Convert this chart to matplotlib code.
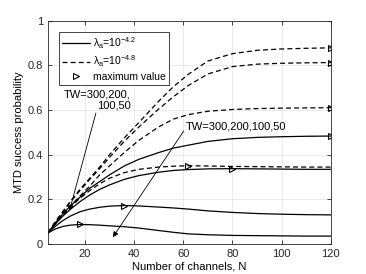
import numpy as np
import matplotlib
matplotlib.use('Agg')
import matplotlib.pyplot as plt
from matplotlib.lines import Line2D

plt.rcParams['font.family'] = ['Liberation Sans', 'DejaVu Sans']
plt.rcParams['mathtext.fontset'] = 'custom'
plt.rcParams['mathtext.rm'] = 'Liberation Sans'

# number of channels
N = np.array([5, 8, 11, 14, 18, 22, 26, 30, 36, 42, 50, 56, 62, 70, 80, 90, 100, 110, 120])

# lambda_a = 10^-4.2 (solid), TW = 300, 200, 100, 50
s_300 = [0.05, 0.095, 0.135, 0.17, 0.21, 0.25, 0.28, 0.31, 0.35, 0.38, 0.41, 0.43, 0.443, 0.46, 0.472, 0.478, 0.481, 0.483, 0.484]
s_200 = [0.05, 0.09, 0.125, 0.155, 0.19, 0.22, 0.245, 0.265, 0.29, 0.307, 0.322, 0.33, 0.334, 0.337, 0.338, 0.337, 0.336, 0.335, 0.335]
s_100 = [0.05, 0.08, 0.105, 0.125, 0.145, 0.157, 0.165, 0.17, 0.173, 0.171, 0.166, 0.162, 0.157, 0.149, 0.142, 0.137, 0.134, 0.132, 0.131]
s_50 = [0.05, 0.068, 0.079, 0.085, 0.088, 0.087, 0.085, 0.082, 0.078, 0.072, 0.061, 0.053, 0.046, 0.042, 0.039, 0.038, 0.037, 0.036, 0.036]

# lambda_a = 10^-4.8 (dashed), TW = 300, 200, 100, 50
d_300 = [0.05, 0.10, 0.145, 0.19, 0.245, 0.295, 0.345, 0.40, 0.475, 0.545, 0.64, 0.705, 0.76, 0.82, 0.853, 0.868, 0.874, 0.877, 0.879]
d_200 = [0.05, 0.10, 0.143, 0.187, 0.24, 0.29, 0.338, 0.388, 0.46, 0.525, 0.605, 0.66, 0.71, 0.762, 0.795, 0.806, 0.81, 0.812, 0.813]
d_100 = [0.05, 0.095, 0.135, 0.17, 0.215, 0.26, 0.31, 0.35, 0.41, 0.465, 0.525, 0.56, 0.58, 0.595, 0.603, 0.607, 0.609, 0.61, 0.611]
d_50 = [0.05, 0.09, 0.13, 0.165, 0.205, 0.24, 0.27, 0.295, 0.32, 0.335, 0.345, 0.349, 0.351, 0.35, 0.348, 0.347, 0.346, 0.345, 0.345]

solid = [s_300, s_200, s_100, s_50]
dashed = [d_300, d_200, d_100, d_50]

fig = plt.figure(figsize=(3.66, 2.74), dpi=100)
ax = fig.add_axes([0.131, 0.109, 0.773, 0.815])

dash = (0, (4, 2.5))
for y in solid:
    ax.plot(N, y, color='k', lw=0.9)
for y in dashed:
    ax.plot(N, y, color='k', lw=0.9, linestyle=dash)
# maximum of each curve (last one if tied)
for y in solid + dashed:
    y = np.array(y)
    i = len(y) - 1 - np.argmax(y[::-1])
    ax.plot(N[i], y[i], marker='>', ms=5, mfc='none', mec='k', mew=0.8, ls='none')

ax.set_xlim(5, 120)
ax.set_ylim(0, 1)
ax.set_xticks([20, 40, 60, 80, 100, 120])
ax.set_yticks([0, 0.2, 0.4, 0.6, 0.8, 1])
ax.set_yticklabels(['0', '0.2', '0.4', '0.6', '0.8', '1'])
ax.tick_params(direction='in', labelsize=8, length=3, width=0.6, top=True, right=True, colors='#262626')
ax.grid(True, color='#e6e6e6', lw=0.6)
ax.set_axisbelow(True)
for sp in ax.spines.values():
    sp.set_linewidth(0.6)
    sp.set_color('#262626')
ax.set_xlabel('Number of channels, N', fontsize=8, labelpad=2)
ax.set_ylabel('MTD success probability', fontsize=8, labelpad=3)

arw = dict(arrowstyle='-|>', lw=0.6, color='k', mutation_scale=8, shrinkA=0, shrinkB=0)
ax.annotate('', xy=(13.7, 0.148), xytext=(24.5, 0.587), arrowprops=arw)
ax.text(38.5, 0.645, 'TW=300,200,\n100,50', fontsize=8, ha='right', va='center',
        multialignment='right', linespacing=1.1)
ax.annotate('', xy=(31.4, 0.031), xytext=(60.2, 0.507), arrowprops=arw)
ax.text(61, 0.527, 'TW=300,200,100,50', fontsize=8, ha='left', va='center')

handles = [Line2D([], [], color='k', lw=0.9),
           Line2D([], [], color='k', lw=0.9, linestyle=dash),
           Line2D([], [], marker='>', ms=5, mfc='none', mec='k', mew=0.8, ls='none')]
labels = [r'λ$_\mathrm{a}$=10$^{-4.2}$', r'λ$_\mathrm{a}$=10$^{-4.8}$', 'maximum value']
leg = ax.legend(handles, labels, loc='upper left', bbox_to_anchor=(0.02, 0.975), fontsize=7.5,
                fancybox=False, edgecolor='#262626', framealpha=1, handlelength=2.6,
                handletextpad=0.3, borderpad=0.35, labelspacing=0.25)
leg.get_frame().set_linewidth(0.6)

fig.savefig('out.png', dpi=100)
